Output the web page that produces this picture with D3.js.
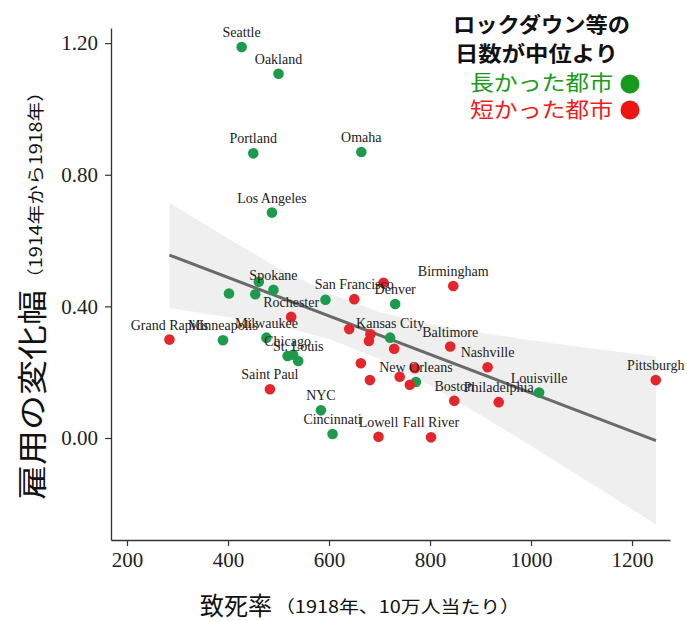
<!DOCTYPE html>
<html><head><meta charset="utf-8">
<script src="https://cdn.jsdelivr.net/npm/d3@7"></script>
<style>html,body{margin:0;padding:0;background:#fff;}svg{display:block;}</style>
</head><body>
<svg id="chart" width="687" height="621"></svg>
<script>
// ---- data ----
const cities = ["Seattle","Oakland","Portland","Omaha","Los Angeles","","","","Spokane","","Denver","Minneapolis","Milwaukee","Chicago","","St. Louis","Kansas City","New Orleans","NYC","Cincinnati","Louisville",
  "Grand Rapids","Rochester","San Francisco","","Birmingham","","","","","","","","","","Saint Paul","Lowell","Fall River","Baltimore","Nashville","Boston","Philadelphia","Pittsburgh"];
const mortality = [427,500,450,664,487,402,461,454,490,593,731,390,476,518,529,539,721,772,584,607,1016,
  284,525,650,708,846,640,682,679,729,663,681,740,770,760,483,698,802,840,914,848,936,1247];
const employment = [1.188,1.107,0.865,0.869,0.685,0.439,0.475,0.437,0.450,0.420,0.407,0.297,0.305,0.249,0.253,0.234,0.305,0.170,0.084,0.012,0.138,
  0.299,0.368,0.422,0.472,0.462,0.331,0.315,0.295,0.271,0.227,0.176,0.186,0.212,0.162,0.148,0.004,0.002,0.278,0.215,0.113,0.109,0.176];
const groups = ["long","long","long","long","long","long","long","long","long","long","long","long","long","long","long","long","long","long","long","long","long",
  "short","short","short","short","short","short","short","short","short","short","short","short","short","short","short","short","short","short","short","short","short","short"];
const fitX = [284, 1247.5];
const fitY = [0.556, -0.008];
const bandX  = [284, 400, 500, 600, 700, 800, 900, 1000, 1100, 1247.5];
const bandHi = [0.715, 0.606, 0.517, 0.440, 0.383, 0.346, 0.320, 0.297, 0.276, 0.248];
const bandLo = [0.395, 0.368, 0.341, 0.301, 0.241, 0.161, 0.070, -0.024, -0.120, -0.263];
const xTicks = [200, 400, 600, 800, 1000, 1200];
const yTicks = [0, 0.4, 0.8, 1.2];
const legendLines = ["ロックダウン等の", "日数が中位より", "長かった都市", "短かった都市"];

// ---- drawing ----
const svg = d3.select("#chart");
const x = d3.scaleLinear().domain([168.3, 1275.2]).range([111, 670]);
const y = d3.scaleLinear().domain([-0.31, 1.246]).range([540, 28]);
const dotColor = {long: "#1d9a4c", short: "#e3262b"};
const serif = "'Liberation Serif','Times New Roman',serif";
const sans = "'Noto Sans CJK JP','Noto Sans',sans-serif";

// confidence band
const band = bandX.map((d, i) => ({x: d, lo: bandLo[i], hi: bandHi[i]}));
svg.append("path").datum(band)
  .attr("d", d3.area().x(d => x(d.x)).y0(d => y(d.lo)).y1(d => y(d.hi)))
  .attr("fill", "#efefef");

// fit line
svg.append("path").datum(fitX.map((d, i) => [d, fitY[i]]))
  .attr("d", d3.line().x(d => x(d[0])).y(d => y(d[1])))
  .attr("stroke", "#6a6a6a").attr("stroke-width", 3).attr("fill", "none");

// axes
const gx = svg.append("g").attr("transform", "translate(0,540)")
  .call(d3.axisBottom(x).tickValues(xTicks).tickSizeInner(6).tickSizeOuter(0).tickPadding(6).tickFormat(d3.format("d")));
const gy = svg.append("g").attr("transform", "translate(111,0)")
  .call(d3.axisLeft(y).tickValues(yTicks).tickSizeInner(6).tickSizeOuter(0).tickPadding(7).tickFormat(d3.format(".2f")));
[gx, gy].forEach(g => {
  g.selectAll("path.domain").attr("stroke", "#333").attr("stroke-width", 1.3);
  g.selectAll(".tick line").attr("stroke", "#333").attr("stroke-width", 1.2);
  g.selectAll(".tick text").attr("font-family", serif).attr("font-size", 21).attr("fill", "#222");
});

// points
const pts = cities.map((c, i) => ({name: c, x: mortality[i], y: employment[i], g: groups[i]}));
svg.append("g").selectAll("circle").data(pts).join("circle")
  .attr("cx", d => x(d.x)).attr("cy", d => y(d.y)).attr("r", 5.3)
  .attr("fill", d => dotColor[d.g]);

// point labels
svg.append("g").selectAll("text").data(pts.filter(d => d.name)).join("text")
  .attr("x", d => x(d.x)).attr("y", d => y(d.y) - 10)
  .attr("text-anchor", "middle").attr("font-family", serif).attr("font-size", 14)
  .attr("fill", "#222").text(d => d.name);

// axis titles
svg.append("text").attr("x", 200).attr("y", 615)
  .attr("font-family", sans).attr("font-size", 25).attr("fill", "#111")
  .attr("textLength", 72).attr("lengthAdjust", "spacingAndGlyphs").text("致死率");
svg.append("text").attr("x", 275).attr("y", 613)
  .attr("font-family", sans).attr("font-size", 17).attr("fill", "#111")
  .attr("textLength", 245).attr("lengthAdjust", "spacingAndGlyphs").text("（1918年、10万人当たり）");

svg.append("text").attr("transform", "translate(43,500) rotate(-90)")
  .attr("font-family", sans).attr("font-size", 30).attr("fill", "#111")
  .attr("textLength", 210).attr("lengthAdjust", "spacingAndGlyphs").text("雇用の変化幅");
svg.append("text").attr("transform", "translate(42,288) rotate(-90)")
  .attr("font-family", sans).attr("font-size", 17).attr("fill", "#111")
  .attr("textLength", 206).attr("lengthAdjust", "spacingAndGlyphs").text("（1914年から1918年）");

// legend
const lg = svg.append("g");
lg.append("text").attr("x", 453).attr("y", 32).attr("font-family", sans).attr("font-weight", "bold")
  .attr("font-size", 21).attr("fill", "#111").attr("textLength", 177).attr("lengthAdjust", "spacingAndGlyphs").text(legendLines[0]);
lg.append("text").attr("x", 455).attr("y", 61).attr("font-family", sans).attr("font-weight", "bold")
  .attr("font-size", 21).attr("fill", "#111").attr("textLength", 163).attr("lengthAdjust", "spacingAndGlyphs").text(legendLines[1]);
lg.append("text").attr("x", 470).attr("y", 90).attr("font-family", sans)
  .attr("font-size", 21).attr("fill", "#1a9a1a").attr("textLength", 143).attr("lengthAdjust", "spacingAndGlyphs").text(legendLines[2]);
lg.append("text").attr("x", 470).attr("y", 117).attr("font-family", sans)
  .attr("font-size", 21).attr("fill", "#f01c1c").attr("textLength", 143).attr("lengthAdjust", "spacingAndGlyphs").text(legendLines[3]);
lg.append("circle").attr("cx", 630).attr("cy", 84).attr("r", 9.5).attr("fill", "#169a1e");
lg.append("circle").attr("cx", 630).attr("cy", 110).attr("r", 9.5).attr("fill", "#ee1414");
</script>
</body></html>
